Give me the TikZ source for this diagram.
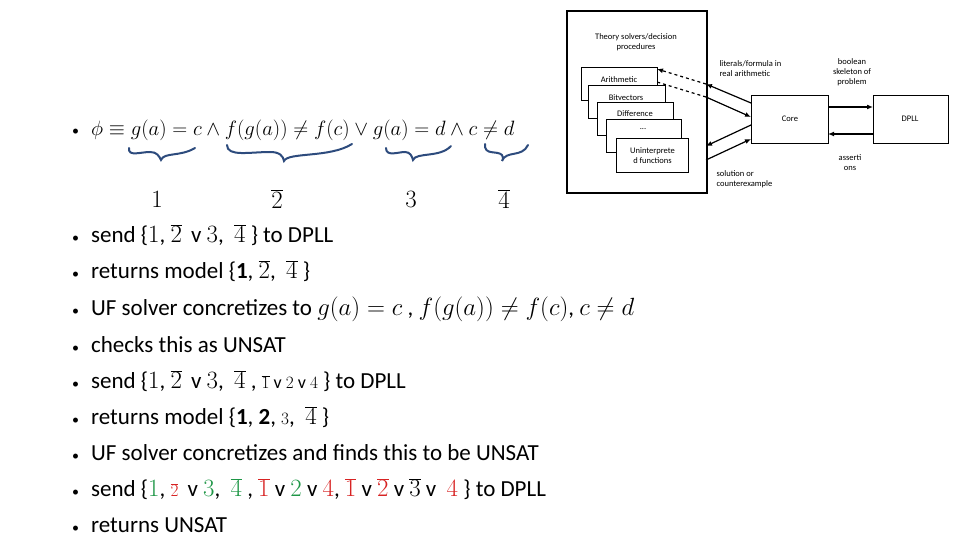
\documentclass[tikz,border=0pt]{standalone}
\usepackage{fontspec}
\setmainfont{Carlito}
\usetikzlibrary{arrows.meta}
\definecolor{gr}{RGB}{30,150,70}
\definecolor{rd}{RGB}{215,35,35}
\definecolor{br}{RGB}{45,75,125}
\tikzset{
 bx/.style={draw,line width=1pt,fill=white,inner sep=0pt},
 sm/.style={font=\fontsize{8.5}{10}\selectfont,align=center},
 ln/.style={anchor=west,font=\fontsize{23}{26}\selectfont,inner sep=0pt},
 ar/.style={line width=1.2pt,-{Latex[length=6pt,width=5pt]}},
 brace/.style={br,line width=2pt,line cap=round}
}
\newcommand{\ob}[1]{\overline{#1}}
\newcommand{\sz}[1]{{\fontsize{18}{20}\selectfont #1}}
\newcommand{\bz}[1]{{\fontsize{29}{30}\selectfont #1}}
\newcommand{\bul}{{\fontsize{14}{16}\selectfont•}\hspace{12pt}}
\begin{document}
\begin{tikzpicture}[x=1pt,y=-1pt]
\useasboundingbox (0,0) rectangle (960,540);
% formula
\node[ln] (l0) at (72,130) {\bul{\fontsize{20}{24}\selectfont$\phi\equiv g(a)=c\wedge f\bigl(g(a)\bigr)\neq f(c)\vee g(a)=d\wedge c\neq d$}};
\draw[brace] (129,148) .. controls (128,157) and (140,152) .. (150,152) .. controls (157,152) and (159,156) .. (161,160) .. controls (164,152) and (180,157) .. (195,148);
\draw[brace] (227,145) .. controls (227,157) and (250,152) .. (270,152) .. controls (280,152) and (283,156) .. (284,161) .. controls (288,152) and (330,158) .. (352,144);
\draw[brace] (386,148) .. controls (386,157) and (398,152) .. (405,152) .. controls (410,152) and (412,156) .. (413,160) .. controls (416,152) and (440,158) .. (451,146);
\draw[brace] (485,144) .. controls (484,156) and (497,150) .. (502,155) .. controls (504,157) and (503,160) .. (502,161) .. controls (506,150) and (522,158) .. (528,145);
\node[font=\fontsize{23}{26}\selectfont] (n1) at (157,199) {$1$};
\node[font=\fontsize{23}{26}\selectfont] (n2) at (277,199) {$\ob{2}$};
\node[font=\fontsize{23}{26}\selectfont] (n3) at (411,199) {$3$};
\node[font=\fontsize{23}{26}\selectfont] (n4) at (504,199) {$\ob{4}$};
% diagram
\node[bx,line width=2pt,minimum width=140,minimum height=182,anchor=north west] (outer) at (566,10) {};
\node[sm] (title) at (636,42) {Theory solvers/decision\\procedures};
\node[bx,minimum width=76,minimum height=33,anchor=north west] (ar) at (581,67) {};
\node[sm,anchor=north] at (619,73) {Arithmetic};
\node[bx,minimum width=77,minimum height=33,anchor=north west] (bv) at (588,85) {};
\node[sm,anchor=north] at (626,91) {Bitvectors};
\node[bx,minimum width=76,minimum height=33,anchor=north west] (df) at (597,102) {};
\node[sm,anchor=north] at (635,107) {Difference};
\node[bx,minimum width=75,minimum height=33,anchor=north west] (dt) at (606,119) {};
\node[sm,anchor=north] at (643,125) {...};
\node[bx,minimum width=72,minimum height=34,anchor=north west,sm] (uf) at (616,138) {Uninterprete\\d functions};
\node[bx,minimum width=77,minimum height=48,anchor=north west] (core) at (751,95) {};
\node[sm] at (790,119) {Core};
\node[bx,minimum width=75,minimum height=48,anchor=north west] (dpll) at (873,95) {};
\node[sm] at (910,119) {DPLL};
\coordinate (c1) at (751,103); \coordinate (t1) at (706,84);
\coordinate (c2) at (751,117); \coordinate (t2) at (706,97);
\coordinate (c3) at (751,125); \coordinate (t3) at (706,146);
\coordinate (c4) at (751,139); \coordinate (t4) at (706,160);
\draw[ar] (c1) -- (t1);
\draw[ar] (t2) -- (c2);
\draw[ar] (c3) -- (t3);
\draw[ar] (t4) -- (c4);
\draw[ar,dashed] (t1) -- (657,69);
\draw[line width=1.2pt,dashed] (t2) -- (657,82);
\draw[ar] (828,107) -- (873,107);
\draw[ar] (873,134) -- (828,134);
\node[sm,align=left,anchor=north west] at (716,57) {literals/formula in\\real arithmetic};
\node[sm] at (852,72) {boolean\\skeleton of\\problem};
\node[sm] at (850,163) {asserti\\ons};
\node[sm,align=left,anchor=north west] at (713,167) {solution or\\counterexample};
% lines
\node[ln] (l1) at (72,235) {\bul send \{$1$, $\ob{2}$ \,v $3$, \ $\ob{4}$ \} to DPLL};
\node[ln] (l2) at (72,271) {\bul returns model \{$\mathbf{1}$, $\ob{2}$, \ $\ob{4}$ \}};
\node[ln] (l3) at (72,309) {\bul UF solver concretizes to $g(a)=c$ , $f\bigl(g(a)\bigr)\neq f(c)$, $c\neq d$};
\node[ln] (l4) at (72,345) {\bul checks this as UNSAT};
\node[ln] (l5) at (72,381) {\bul send \{$1$, $\ob{2}$ \,v $3$, \ $\ob{4}$ , \sz{$\ob{1}$ v $2$ v $4$} \} to DPLL};
\node[ln] (l6) at (72,417) {\bul returns model \{$\mathbf{1}$, $\mathbf{2}$, \sz{$3$}, \ $\ob{4}$ \}};
\node[ln] (l7) at (72,453) {\bul UF solver concretizes and finds this to be UNSAT};
\node[ln] (l8) at (72,489) {\bul send \{{\color{gr}$1$}, {\color{rd}\sz{$\ob{2}$}} \,v {\color{gr}$3$}, \ {\color{gr}$\ob{4}$} , {\color{rd}\bz{$\ob{1}$}} v {\color{gr}$2$} v {\color{rd}\bz{$4$}}, {\color{rd}\bz{$\ob{1}$}} v {\color{rd}\bz{$\ob{2}$}} v $\ob{3}$ v \ {\color{rd}$4$} \} to DPLL};
\node[ln] (l9) at (72,525) {\bul returns UNSAT};
\end{tikzpicture}
\end{document}
